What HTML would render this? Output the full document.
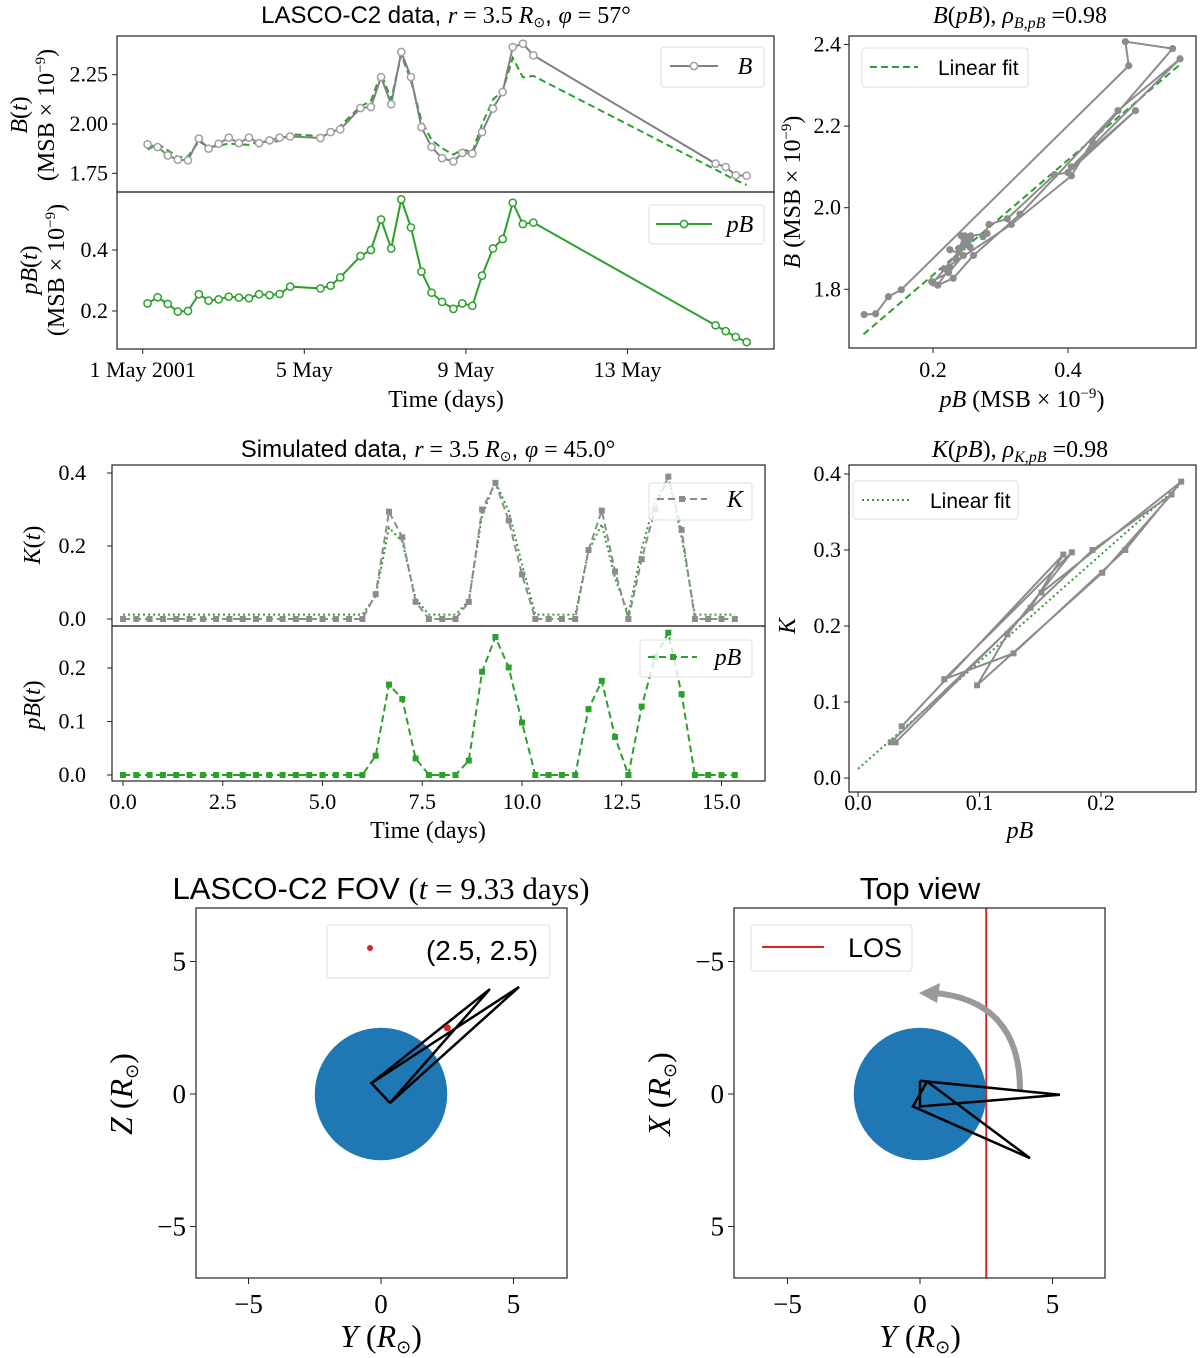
<!DOCTYPE html>
<html><head><meta charset="utf-8">
<style>
html,body{margin:0;padding:0;background:#fff;}
svg{display:block;}
.serif{font-family:"Liberation Serif",serif;}
.sans{font-family:"Liberation Sans",sans-serif;}
.it{font-style:italic;}
</style></head>
<body>
<svg id="fig" width="1200" height="1358" viewBox="0 0 1200 1358" xmlns="http://www.w3.org/2000/svg">
<rect width="1200" height="1358" fill="#fff"/>

<text x="446" y="23" text-anchor="middle" font-size="24" class="sans">LASCO-C2 data, <tspan class="serif it">r</tspan><tspan class="serif"> = 3.5 </tspan><tspan class="serif it">R</tspan><tspan class="serif" font-size="14" dy="4">⊙</tspan><tspan dy="-4">, </tspan><tspan class="serif it"> φ</tspan><tspan class="serif"> = 57°</tspan></text>
<g class="serif" font-size="24">
<text transform="translate(27,115) rotate(-90)" text-anchor="middle"><tspan class="it">B</tspan>(<tspan class="it">t</tspan>)</text>
<text transform="translate(54,115) rotate(-90)" text-anchor="middle">(MSB × 10<tspan font-size="15" dy="-9">−9</tspan><tspan dy="9">)</tspan></text>
</g>
<g class="serif" font-size="24">
<text transform="translate(37,270) rotate(-90)" text-anchor="middle"><tspan class="it">pB</tspan>(<tspan class="it">t</tspan>)</text>
<text transform="translate(64,270) rotate(-90)" text-anchor="middle">(MSB × 10<tspan font-size="15" dy="-9">−9</tspan><tspan dy="9">)</tspan></text>
</g>
<text x="446" y="407" text-anchor="middle" font-size="24" class="serif">Time (days)</text>

<text x="1020" y="23" text-anchor="middle" font-size="24" class="serif"><tspan class="it">B</tspan>(<tspan class="it">pB</tspan>),  <tspan class="it">ρ</tspan><tspan class="it" font-size="16" dy="5">B,pB</tspan><tspan dy="-5"> =0.98</tspan></text>
<text x="1022" y="407" text-anchor="middle" font-size="24" class="serif"><tspan class="it">pB</tspan> (MSB × 10<tspan font-size="15" dy="-9">−9</tspan><tspan dy="9">)</tspan></text>
<text transform="translate(800,192) rotate(-90)" text-anchor="middle" font-size="24" class="serif"><tspan class="it">B</tspan> (MSB × 10<tspan font-size="15" dy="-9">−9</tspan><tspan dy="9">)</tspan></text>

<text x="428" y="457" text-anchor="middle" font-size="24" class="sans">Simulated data, <tspan class="serif it">r</tspan><tspan class="serif"> = 3.5 </tspan><tspan class="serif it">R</tspan><tspan class="serif" font-size="14" dy="4">⊙</tspan><tspan dy="-4">, </tspan><tspan class="serif it"> φ</tspan><tspan class="serif"> = 45.0°</tspan></text>
<text transform="translate(40,545) rotate(-90)" text-anchor="middle" font-size="24" class="serif"><tspan class="it">K</tspan>(<tspan class="it">t</tspan>)</text>
<text transform="translate(40,705) rotate(-90)" text-anchor="middle" font-size="24" class="serif"><tspan class="it">pB</tspan>(<tspan class="it">t</tspan>)</text>
<text x="428" y="838" text-anchor="middle" font-size="24" class="serif">Time (days)</text>

<text x="1020" y="457" text-anchor="middle" font-size="24" class="serif"><tspan class="it">K</tspan>(<tspan class="it">pB</tspan>),  <tspan class="it">ρ</tspan><tspan class="it" font-size="16" dy="5">K,pB</tspan><tspan dy="-5"> =0.98</tspan></text>
<text x="1020" y="838" text-anchor="middle" font-size="24" class="serif it">pB</text>
<text transform="translate(795,626) rotate(-90)" text-anchor="middle" font-size="24" class="serif it">K</text>

<text x="381" y="899" text-anchor="middle" font-size="31" class="sans">LASCO-C2 FOV <tspan class="serif">(<tspan class="it">t</tspan> = 9.33 days)</tspan></text>
<text x="381" y="1347" text-anchor="middle" font-size="32" class="serif"><tspan class="it">Y</tspan> (<tspan class="it">R</tspan><tspan font-size="18" dy="6">⊙</tspan><tspan dy="-6">)</tspan></text>
<text transform="translate(132,1094) rotate(-90)" text-anchor="middle" font-size="32" class="serif"><tspan class="it">Z</tspan> (<tspan class="it">R</tspan><tspan font-size="18" dy="6">⊙</tspan><tspan dy="-6">)</tspan></text>

<text x="920" y="899" text-anchor="middle" font-size="31" class="sans">Top view</text>
<text x="920" y="1347" text-anchor="middle" font-size="32" class="serif"><tspan class="it">Y</tspan> (<tspan class="it">R</tspan><tspan font-size="18" dy="6">⊙</tspan><tspan dy="-6">)</tspan></text>
<text transform="translate(670,1094) rotate(-90)" text-anchor="middle" font-size="32" class="serif"><tspan class="it">X</tspan> (<tspan class="it">R</tspan><tspan font-size="18" dy="6">⊙</tspan><tspan dy="-6">)</tspan></text>

<g id="marks"></g>
</svg>

<script>
// ---------- Data: LASCO-C2 observations ----------
const obsDays = [0.12,0.37,0.62,0.87,1.12,1.39,1.63,1.88,2.13,2.38,2.63,2.88,3.14,3.39,3.65,4.40,4.65,4.89,5.39,5.65,5.90,6.15,6.40,6.64,6.90,7.15,7.41,7.69,7.91,8.16,8.40,8.67,8.91,9.16,9.41,9.67,14.18,14.43,14.68,14.95];
const obsB = [1.897,1.883,1.841,1.819,1.816,1.926,1.875,1.900,1.931,1.903,1.931,1.903,1.917,1.931,1.937,1.929,1.959,1.973,2.081,2.086,2.238,2.100,2.365,2.238,1.984,1.883,1.827,1.810,1.853,1.850,1.959,2.078,2.162,2.390,2.407,2.348,1.799,1.782,1.740,1.738];
const obsPB = [0.225,0.245,0.223,0.198,0.200,0.255,0.234,0.238,0.247,0.244,0.242,0.255,0.252,0.256,0.280,0.274,0.283,0.310,0.380,0.400,0.500,0.405,0.566,0.474,0.329,0.260,0.230,0.207,0.225,0.217,0.316,0.405,0.436,0.555,0.485,0.490,0.153,0.134,0.115,0.098];
const bFitSlope = 1.41;
const bFitIntercept = 1.553;
const dateTickDays = [0,4,8,12];
const dateTickLabels = ["1 May 2001","5 May","9 May","13 May"];
const bTicks = [1.75,2.00,2.25];
const bTickLabels = ["1.75","2.00","2.25"];
const pbTicks = [0.2,0.4];
const pbTickLabels = ["0.2","0.4"];
const scatBXTicks = [0.2,0.4];
const scatBYTicks = [1.8,2.0,2.2,2.4];

// ---------- Data: simulated ----------
const simK = [0,0,0,0,0,0,0,0,0,0,0,0,0,0,0,0,0,0,0,0.068,0.294,0.224,0.047,0,0,0,0.047,0.300,0.373,0.270,0.122,0,0,0,0,0.189,0.297,0.130,0,0.164,0.300,0.390,0.244,0,0,0,0];
const simPB = [0,0,0,0,0,0,0,0,0,0,0,0,0,0,0,0,0,0,0,0.036,0.169,0.142,0.031,0,0,0,0.027,0.193,0.258,0.201,0.098,0,0,0,0,0.123,0.176,0.071,0,0.128,0.220,0.266,0.151,0,0,0,0];
const simStep = 1/3;
const kFitSlope = 1.41;
const kFitIntercept = 0.012;
const simXTicks = [0,2.5,5,7.5,10,12.5,15];
const simXTickLabels = ["0.0","2.5","5.0","7.5","10.0","12.5","15.0"];
const kTicks = [0,0.2,0.4];
const kTickLabels = ["0.0","0.2","0.4"];
const spbTicks = [0,0.1,0.2];
const spbTickLabels = ["0.0","0.1","0.2"];
const kpXTicks = [0,0.1,0.2];
const kpYTicks = [0,0.1,0.2,0.3,0.4];

// ---------- Data: geometry ----------
const fovPoly = [[-0.36,0.41],[4.11,3.96],[0.34,-0.34],[5.21,4.04],[-0.36,0.41],[0.34,-0.34]];
const fovPoint = [2.5,2.5];
const topPoly = [[0,-0.5],[0.27,-0.47],[5.28,0.03],[0,0.47],[0,-0.5]];
const topPoly2 = [[0.27,-0.47],[4.15,2.42],[-0.27,0.47],[0.27,-0.47]];
const losY = 2.5;
const sunRadius = 2.5;
const geoTicks = [-5,0,5];
const geoTickLabels = ["−5","0","5"];

// ---------- scales ----------
const xT = d => 142.7 + d*40.4;
const yB = v => 124 - (v-2.0)*197.3;
const yP = v => 250 - (v-0.4)*305;
const xS = p => 933 + (p-0.2)*675;
const yS = b => 289.3 - (b-1.8)*408;
const xt = t => 123 + t*39.9;
const yK = k => 619 - k*365;
const yP2 = p => 775 - p*535;
const xKP = p => 858 + p*1215;
const yKP = k => 778 - k*760;
const sxE = v => 381 + v*26.5;
const syE = v => 1094 - v*26.5;
const sxF = v => 920 + v*26.5;
const syF = v => 1094 + v*26.5;

const NS = "http://www.w3.org/2000/svg";
const root = document.getElementById('marks');
function mk(tag, attrs, parent){
  const e = document.createElementNS(NS, tag);
  for (const k in attrs) e.setAttribute(k, attrs[k]);
  (parent||root).appendChild(e);
  return e;
}
function pts(arr){ return arr.map(p=>p[0].toFixed(2)+','+p[1].toFixed(2)).join(' '); }
function txt(x,y,s,size,anchor,cls){
  const e = mk('text',{x:x,y:y,'font-size':size,'text-anchor':anchor||'middle','class':cls||'serif'});
  e.textContent = s;
  return e;
}

// ===== Panel A =====
{
  const clipA = mk('clipPath',{id:'clipA'}); mk('rect',{x:117,y:36,width:657,height:156},clipA);
  const clipA2 = mk('clipPath',{id:'clipA2'}); mk('rect',{x:117,y:192,width:657,height:157},clipA2);
  const fit = mk('polyline',{points:pts(obsDays.map((d,i)=>[xT(d),yB(bFitIntercept+bFitSlope*obsPB[i])])),fill:'none',stroke:'#2ca02c','stroke-width':2,'stroke-dasharray':'7,4','clip-path':'url(#clipA)'});
  
  
  const bl = mk('polyline',{points:pts(obsDays.map((d,i)=>[xT(d),yB(obsB[i])])),fill:'none',stroke:'#808080','stroke-width':2,'clip-path':'url(#clipA)'});
  
  
  obsDays.forEach((d,i)=>{
    const c = mk('circle',{cx:xT(d),cy:yB(obsB[i]),r:3.6,fill:'#fff',stroke:'#a0a0a0','stroke-width':1.5});
    
    
  });
  const pl = mk('polyline',{points:pts(obsDays.map((d,i)=>[xT(d),yP(obsPB[i])])),fill:'none',stroke:'#2ca02c','stroke-width':2,'clip-path':'url(#clipA2)'});
  
  
  obsDays.forEach((d,i)=>{
    const c = mk('circle',{cx:xT(d),cy:yP(obsPB[i]),r:3.6,fill:'#fff',stroke:'#2ca02c','stroke-width':1.5});
    
    
  });
  const fa = mk('rect',{x:117,y:36,width:657,height:156,fill:'none',stroke:'#222','stroke-width':1.2});
  
  
  const fb = mk('rect',{x:117,y:192,width:657,height:157,fill:'none',stroke:'#222','stroke-width':1.2});
  
  
  dateTickDays.forEach((d,i)=>{
    mk('line',{x1:xT(d),x2:xT(d),y1:349,y2:354,stroke:'#222'});
    const t = txt(xT(d),377,dateTickLabels[i],22);
    
    
  });
  bTicks.forEach((v,i)=>{
    mk('line',{x1:112,x2:117,y1:yB(v),y2:yB(v),stroke:'#222'});
    const t = txt(108,yB(v)+7,bTickLabels[i],22,'end');
    
    
  });
  pbTicks.forEach((v,i)=>{
    mk('line',{x1:112,x2:117,y1:yP(v),y2:yP(v),stroke:'#222'});
    const t = txt(108,yP(v)+7,pbTickLabels[i],22,'end');
    
    
  });
  const lg = mk('g',{});
  
  
  mk('rect',{x:661,y:47,width:103,height:40,rx:3,fill:'#fff',stroke:'#ddd'},lg);
  mk('line',{x1:670,x2:718,y1:66,y2:66,stroke:'#808080','stroke-width':2},lg);
  mk('circle',{cx:694,cy:66,r:3.6,fill:'#fff',stroke:'#a0a0a0','stroke-width':1.5},lg);
  lg.appendChild(txt(745,74,'B',24,'middle','serif it'));
  const lg2 = mk('g',{});
  
  
  mk('rect',{x:649,y:205,width:115,height:39,rx:3,fill:'#fff',stroke:'#ddd'},lg2);
  mk('line',{x1:656,x2:712,y1:224,y2:224,stroke:'#2ca02c','stroke-width':2},lg2);
  mk('circle',{cx:684,cy:224,r:3.6,fill:'#fff',stroke:'#2ca02c','stroke-width':1.5},lg2);
  lg2.appendChild(txt(740,232,'pB',24,'middle','serif it'));
}

// ===== Panel B =====
{
  const f = mk('line',{x1:xS(0.097),y1:yS(bFitIntercept+bFitSlope*0.097),x2:xS(0.566),y2:yS(bFitIntercept+bFitSlope*0.566),stroke:'#2ca02c','stroke-width':2,'stroke-dasharray':'7,4'});
  
  
  const l = mk('polyline',{points:pts(obsPB.map((p,i)=>[xS(p),yS(obsB[i])])),fill:'none',stroke:'#8c8c8c','stroke-width':2});
  
  
  obsPB.forEach((p,i)=>{
    const c = mk('circle',{cx:xS(p),cy:yS(obsB[i]),r:3.6,fill:'#8c8c8c'});
    
    
  });
  const fr = mk('rect',{x:849,y:36,width:347,height:312,fill:'none',stroke:'#222','stroke-width':1.2});
  
  
  scatBXTicks.forEach(v=>{
    mk('line',{x1:xS(v),x2:xS(v),y1:348,y2:353,stroke:'#222'});
    const t = txt(xS(v),377,v.toFixed(1),22);
    
    
  });
  scatBYTicks.forEach(v=>{
    mk('line',{x1:844,x2:849,y1:yS(v),y2:yS(v),stroke:'#222'});
    const t = txt(841,yS(v)+7,v.toFixed(1),22,'end');
    
    
  });
  const lg = mk('g',{});
  
  
  mk('rect',{x:862,y:48,width:166,height:39,rx:3,fill:'#fff',stroke:'#ddd'},lg);
  mk('line',{x1:870,x2:918,y1:67,y2:67,stroke:'#2ca02c','stroke-width':2,'stroke-dasharray':'7,4'},lg);
  lg.appendChild(txt(938,75,'Linear fit',21,'start','sans'));
}

// ===== Panel C =====
{
  const fitLine = mk('polyline',{points:pts(simPB.map((p,i)=>[xt(i*simStep),yK(kFitIntercept+kFitSlope*p)])),fill:'none',stroke:'#2ca02c','stroke-width':2,'stroke-dasharray':'2,3'});
  
  
  const kl = mk('polyline',{points:pts(simK.map((k,i)=>[xt(i*simStep),yK(k)])),fill:'none',stroke:'#8c8c8c','stroke-width':2,'stroke-dasharray':'7,4'});
  
  
  simK.forEach((k,i)=>{
    const s = mk('rect',{x:xt(i*simStep)-3,y:yK(k)-3,width:6,height:6,fill:'#8c8c8c'});
    
    
  });
  const pl = mk('polyline',{points:pts(simPB.map((p,i)=>[xt(i*simStep),yP2(p)])),fill:'none',stroke:'#2ca02c','stroke-width':2,'stroke-dasharray':'7,4'});
  
  
  simPB.forEach((p,i)=>{
    const s = mk('rect',{x:xt(i*simStep)-3,y:yP2(p)-3,width:6,height:6,fill:'#2ca02c'});
    
    
  });
  const fa = mk('rect',{x:112,y:465,width:653,height:161,fill:'none',stroke:'#222','stroke-width':1.2});
  
  
  const fb = mk('rect',{x:112,y:626,width:653,height:155,fill:'none',stroke:'#222','stroke-width':1.2});
  
  
  simXTicks.forEach((v,i)=>{
    mk('line',{x1:xt(v),x2:xt(v),y1:781,y2:786,stroke:'#222'});
    const t = txt(xt(v),809,simXTickLabels[i],22);
    
    
  });
  kTicks.forEach((v,i)=>{
    mk('line',{x1:107,x2:112,y1:yK(v),y2:yK(v),stroke:'#222'});
    const t = txt(86,yK(v)+7,kTickLabels[i],22,'end');
    
    
  });
  spbTicks.forEach((v,i)=>{
    mk('line',{x1:107,x2:112,y1:yP2(v),y2:yP2(v),stroke:'#222'});
    const t = txt(86,yP2(v)+7,spbTickLabels[i],22,'end');
    
    
  });
  const lg = mk('g',{});
  
  
  mk('rect',{x:649,y:483,width:103,height:37,rx:3,fill:'#fff','fill-opacity':0.8,stroke:'#ddd'},lg);
  mk('line',{x1:657,x2:707,y1:499,y2:499,stroke:'#8c8c8c','stroke-width':2,'stroke-dasharray':'7,4'},lg);
  mk('rect',{x:679,y:496,width:6,height:6,fill:'#8c8c8c'},lg);
  lg.appendChild(txt(735,507,'K',24,'middle','serif it'));
  const lg2 = mk('g',{});
  
  
  mk('rect',{x:640,y:640,width:112,height:37,rx:3,fill:'#fff','fill-opacity':0.8,stroke:'#ddd'},lg2);
  mk('line',{x1:648,x2:697,y1:657,y2:657,stroke:'#2ca02c','stroke-width':2,'stroke-dasharray':'7,4'},lg2);
  mk('rect',{x:670,y:654,width:6,height:6,fill:'#2ca02c'},lg2);
  lg2.appendChild(txt(728,665,'pB',24,'middle','serif it'));
}

// ===== Panel D =====
{
  const f = mk('line',{x1:xKP(0),y1:yKP(kFitIntercept),x2:xKP(0.267),y2:yKP(kFitIntercept+kFitSlope*0.267),stroke:'#2ca02c','stroke-width':2,'stroke-dasharray':'2,3'});
  
  
  const nz = simPB.map((p,i)=>[p,simK[i]]).filter(q=>q[0]>0 || q[1]>0);
  const l = mk('polyline',{points:pts(nz.map(q=>[xKP(q[0]),yKP(q[1])])),fill:'none',stroke:'#8c8c8c','stroke-width':2});
  
  
  nz.forEach(q=>{
    const s = mk('rect',{x:xKP(q[0])-3,y:yKP(q[1])-3,width:6,height:6,fill:'#8c8c8c'});
    
    
  });
  const fr = mk('rect',{x:849,y:465,width:347,height:327,fill:'none',stroke:'#222','stroke-width':1.2});
  
  
  kpXTicks.forEach(v=>{
    mk('line',{x1:xKP(v),x2:xKP(v),y1:792,y2:797,stroke:'#222'});
    const t = txt(xKP(v),810,v.toFixed(1),22);
    
    
  });
  kpYTicks.forEach(v=>{
    mk('line',{x1:844,x2:849,y1:yKP(v),y2:yKP(v),stroke:'#222'});
    const t = txt(841,yKP(v)+7,v.toFixed(1),22,'end');
    
    
  });
  const lg = mk('g',{});
  
  
  mk('rect',{x:853,y:481,width:165,height:38,rx:3,fill:'#fff',stroke:'#ddd'},lg);
  mk('line',{x1:862,x2:912,y1:500,y2:500,stroke:'#2ca02c','stroke-width':2,'stroke-dasharray':'2,3'},lg);
  lg.appendChild(txt(930,508,'Linear fit',21,'start','sans'));
}

// ===== Panel E =====
{
  const clipE = mk('clipPath',{id:'clipE'}); mk('rect',{x:196,y:908,width:371,height:370},clipE);
  const sun = mk('circle',{cx:sxE(0),cy:syE(0),r:sunRadius*26.5,fill:'#1f77b4','clip-path':'url(#clipE)'});
  
  
  const pg = mk('polyline',{points:pts(fovPoly.map(p=>[sxE(p[0]),syE(p[1])])),fill:'none',stroke:'#000','stroke-width':2.5,'stroke-linejoin':'miter'});
  
  
  const pt = mk('circle',{cx:sxE(fovPoint[0]),cy:syE(fovPoint[1]),r:3.5,fill:'#d62728'});
  
  
  const fr = mk('rect',{x:196,y:908,width:371,height:370,fill:'none',stroke:'#222','stroke-width':1.2});
  
  
  geoTicks.forEach((v,i)=>{
    mk('line',{x1:sxE(v),x2:sxE(v),y1:1278,y2:1284,stroke:'#222'});
    const t = txt(sxE(v),1313,geoTickLabels[i],27);
    
    
    mk('line',{x1:190,x2:196,y1:syE(v),y2:syE(v),stroke:'#222'});
    const t2 = txt(186,syE(v)+9,geoTickLabels[i],27,'end');
    
    
  });
  const lg = mk('g',{});
  
  
  mk('rect',{x:327,y:925,width:223,height:53,rx:3,fill:'#fff',stroke:'#ddd'},lg);
  mk('circle',{cx:370,cy:948,r:3,fill:'#d62728'},lg);
  lg.appendChild(txt(482,960,'(2.5, 2.5)',28,'middle','sans'));
}

// ===== Panel F =====
{
  const clipF = mk('clipPath',{id:'clipF'}); mk('rect',{x:734,y:908,width:371,height:370},clipF);
  const sun = mk('circle',{cx:sxF(0),cy:syF(0),r:sunRadius*26.5,fill:'#1f77b4','clip-path':'url(#clipF)'});
  
  
  const los = mk('line',{x1:sxF(losY),x2:sxF(losY),y1:908,y2:1278,stroke:'#d62728','stroke-width':2});
  
  
  const arc = mk('path',{d:'M1020,1090 C1020,1030 990,998 935,993',fill:'none',stroke:'#999','stroke-width':6});
  
  
  const head = mk('polygon',{points:'919,993 940,983 937,1003',fill:'#999'});
  
  
  const pg = mk('polyline',{points:pts(topPoly.map(p=>[sxF(p[0]),syF(p[1])])),fill:'none',stroke:'#000','stroke-width':2.5});
  
  
  const pg2 = mk('polyline',{points:pts(topPoly2.map(p=>[sxF(p[0]),syF(p[1])])),fill:'none',stroke:'#000','stroke-width':2.5});
  
  
  const fr = mk('rect',{x:734,y:908,width:371,height:370,fill:'none',stroke:'#222','stroke-width':1.2});
  
  
  geoTicks.forEach((v,i)=>{
    mk('line',{x1:sxF(v),x2:sxF(v),y1:1278,y2:1284,stroke:'#222'});
    const t = txt(sxF(v),1313,geoTickLabels[i],27);
    
    
    mk('line',{x1:728,x2:734,y1:syF(v),y2:syF(v),stroke:'#222'});
    const t2 = txt(724,syF(v)+9,geoTickLabels[i],27,'end');
    
    
  });
  const lg = mk('g',{});
  
  
  mk('rect',{x:751,y:925,width:161,height:46,rx:3,fill:'#fff',stroke:'#ddd'},lg);
  mk('line',{x1:762,x2:824,y1:947,y2:947,stroke:'#d62728','stroke-width':2},lg);
  lg.appendChild(txt(875,957,'LOS',27,'middle','sans'));
}
</script>
</body></html>
